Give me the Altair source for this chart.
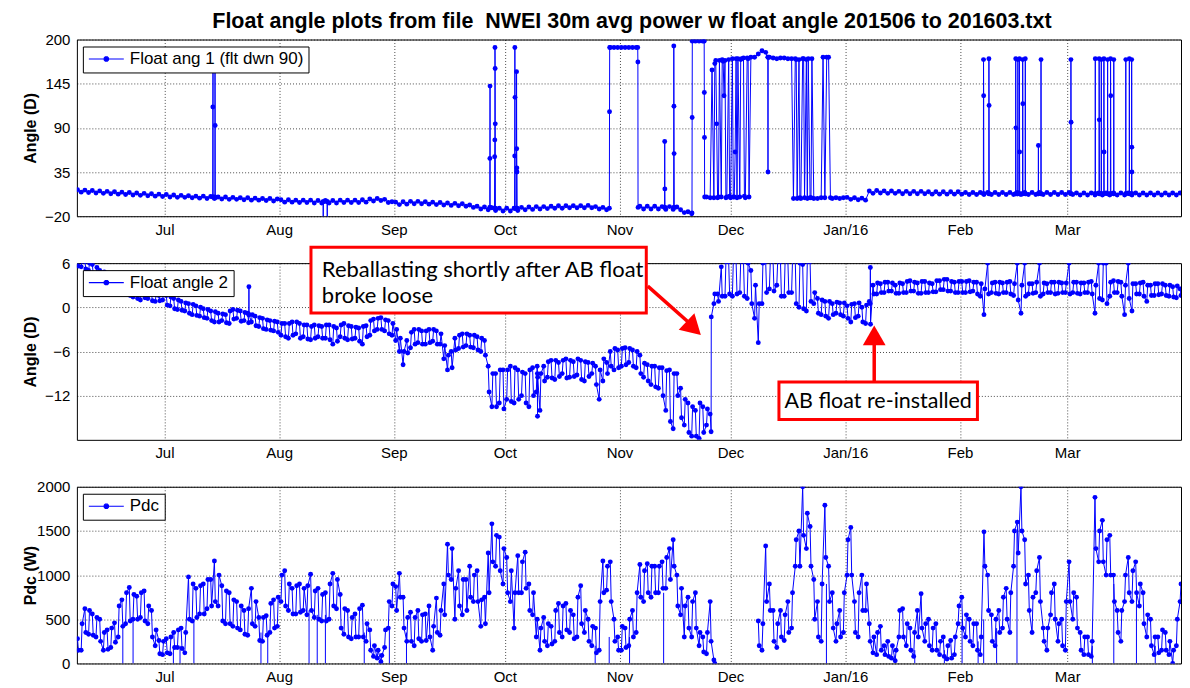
import altair as alt
import pandas as pd

FONT = "Liberation Sans"
NOTE_FONT = "Lato"
BLUE = "#0000ff"
RED = "#ff0000"

TITLE = "Float angle plots from file\u00a0 NWEI 30m avg power w float angle 201506 to 201603.txt"

# Daily samples, one list per month.  "_A" lists are the value at 12:00 and
# "_B" lists the value at 18:00 of the same day (upper / lower edge of the band).
MONTH_STARTS = ["2015-06-07", "2015-07-01", "2015-08-01", "2015-09-01", "2015-10-01",
                "2015-11-01", "2015-12-01", "2016-01-01", "2016-02-01", "2016-03-01"]
MONTH_LENGTHS = [24, 31, 31, 30, 31, 30, 31, 31, 29, 31]
TICK_MONTHS = [(2015, 7), (2015, 8), (2015, 9), (2015, 10), (2015, 11), (2015, 12),
               (2016, 1), (2016, 2), (2016, 3)]

# ---- Float ang 1 (flt dwn 90) ----
A1_JUN = [13, 10, 12.5, 9.5, 12, 9, 11.5, 8.5, 11, 8, 10.5, 7.5, 10, 7, 9.5, 6.5, 9, 6, 8.5, 5.5, 8, 5, 7.5, 4.5]
A1_JUL = [7, 4, 6.5, 3.5, 6, 3.5, 5.5, 3, 5, 2.5, 5, 2, 4.5, 2, 4, 1.5, 4, 1, 3.5, 1, 3, 0.5, 3, 0, 2.5, 0, 2, -0.5, 2, -1, 1.5]
A1_AUG = [0.5, -2.5, 0.5, -2.5, 0, -3, 0, -3, 0, -3.5, -0.5, -3.5, -0.5, -3.5, -0.5, -3.5, 0, -3, 0, -3, 0, -3, 0.5, -2.5, 1.5, -1, 2, -0.5, 1, -3, -2]
A1_SEP = [-2.5, -5.5, -2, -5, -1.5, -4.5, -1.5, -4.5, -2, -5, -2.5, -5.5, -3, -6, -3.5, -6.5, -4, -7, -4.5, -7.5, -6, -9, -7.5, -11, -8.5, -12, -9.5, -13, -10, -13.5]
A1_OCT = [-10, -13.5, -10, -13, -9, -12, -8.5, -11.5, -8, -11, -8, -10.5, -7.5, -10, -7, -10, -7, -9.5, -7, -9.5, -7, -9.5, -6.5, -9.5, -8, -11, -9, -12, 190, 190, 190]
A1_NOV = [190, 190, 190, 190, 190, -7.5, -11, -7.5, -11, -7.5, -11, -8, -11.5, -8, -11.5, -8.5, -12, -15.5, -14.5, -17, 198, 198, 198, 4, 3, 3, 3, 4, 174, 175]
A1_DEC = [176, 176, 4, 177, 177, 178, 178, 182, 186, 184, 178, 177, 176, 177, 177, 176, 176, 176, 175, 176, 175, 3, 2, 2, 3, 3, 178, 2, 3, 2, 3]
A1_JAN = [3.5, 1, 3, 0.5, 2.5, 0, 11.5, 8.5, 12, 9, 11.5, 8.5, 11.5, 8.5, 11, 8, 11, 8, 11, 8, 11, 8, 10.5, 7.5, 10.5, 7.5, 10.5, 7.5, 10.5, 7.5, 10.5]
A1_FEB = [7.5, 9.5, 7, 9.5, 7, 9.5, 7, 9.5, 7, 9.5, 7, 9.5, 7, 9.5, 7, 9.5, 7, 9.5, 7, 9.5, 7, 9.5, 7, 9.5, 7, 9.5, 7, 9.5, 7]
A1_MAR = [9.5, 7, 9, 6.5, 9, 6.5, 9, 6.5, 9, 6.5, 9, 6.5, 9, 6.5, 9, 6.5, 9, 6.5, 9, 6.5, 9, 6.5, 9, 6.5, 9, 6.5, 9, 6.5, 9, 6.5, 9]
# extra (sub-daily) samples: spikes and switching
A1_EXTRA = [
    ("2015-07-14T01:00", 4), ("2015-07-14T02:00", 116), ("2015-07-14T03:00", 170), ("2015-07-14T04:00", 4),
    ("2015-07-14T15:00", 4), ("2015-07-14T16:00", 170), ("2015-07-14T17:00", 93), ("2015-07-14T18:00", 3),
    ("2015-08-12T21:00", -2), ("2015-08-12T22:00", -40), ("2015-08-12T23:00", -2),
    ("2015-08-13T23:00", -2), ("2015-08-14T00:00", -40), ("2015-08-14T01:00", -2),
    ("2015-09-26T22:00", -9), ("2015-09-26T23:00", 52), ("2015-09-27T00:00", 142), ("2015-09-27T01:00", -9),
    ("2015-09-28T05:00", -10), ("2015-09-28T06:00", 54), ("2015-09-28T07:00", 75), ("2015-09-28T08:00", 190),
    ("2015-09-28T09:00", 164), ("2015-09-28T10:00", 95), ("2015-09-28T11:00", -10),
    ("2015-10-03T15:00", -10), ("2015-10-03T16:00", 55), ("2015-10-03T17:00", 190), ("2015-10-03T18:00", 128),
    ("2015-10-03T19:00", -10),
    ("2015-10-04T03:00", -10), ("2015-10-04T04:00", 160), ("2015-10-04T05:00", 64), ("2015-10-04T06:00", 40),
    ("2015-10-04T07:00", 35), ("2015-10-04T08:00", -10),
    ("2015-10-29T06:00", -10), ("2015-10-29T07:00", 110), ("2015-10-29T08:00", 190),
    ("2015-11-05T22:00", 190), ("2015-11-05T23:00", 172), ("2015-11-06T00:00", -9),
    ("2015-11-13T04:00", -9), ("2015-11-13T05:00", 73), ("2015-11-13T06:00", 14), ("2015-11-13T07:00", -9),
    ("2015-11-15T15:00", -9), ("2015-11-15T16:00", 192), ("2015-11-15T17:00", 117), ("2015-11-15T18:00", 58),
    ("2015-11-15T19:00", -9),
    ("2015-11-20T14:00", -16), ("2015-11-20T15:00", 103), ("2015-11-20T16:00", 198),
    ("2015-11-23T21:00", 198), ("2015-11-23T22:00", 134), ("2015-11-23T23:00", 78), ("2015-11-24T00:00", 4),
    ("2015-11-26T00:00", 162), ("2015-11-26T18:00", 170), ("2015-11-27T00:00", 174), ("2015-11-27T06:00", 95),
    ("2015-11-27T18:00", 4), ("2015-11-28T00:00", 174), ("2015-11-28T18:00", 175), ("2015-11-29T00:00", 173),
    ("2015-11-29T06:00", 130), ("2015-11-29T18:00", 3), ("2015-11-30T00:00", 4), ("2015-11-30T18:00", 5),
    ("2015-12-01T00:00", 3), ("2015-12-01T18:00", 4), ("2015-12-02T00:00", 4), ("2015-12-02T06:00", 60),
    ("2015-12-02T18:00", 3), ("2015-12-03T00:00", 176), ("2015-12-03T18:00", 175), ("2015-12-04T00:00", 176),
    ("2015-12-04T18:00", 5), ("2015-12-05T00:00", 3), ("2015-12-05T18:00", 176), ("2015-12-06T00:00", 4),
    ("2015-12-11T02:00", 178), ("2015-12-11T03:00", 35), ("2015-12-11T04:00", 178),
    ("2015-12-18T00:00", 2), ("2015-12-18T18:00", 175), ("2015-12-19T00:00", 2), ("2015-12-19T18:00", 3),
    ("2015-12-20T00:00", 2), ("2015-12-20T18:00", 176), ("2015-12-21T00:00", 3), ("2015-12-21T18:00", 2),
    ("2015-12-22T00:00", 176), ("2015-12-22T18:00", 3), ("2015-12-23T00:00", 176),
    ("2015-12-26T00:00", 178), ("2015-12-27T00:00", 178), ("2015-12-28T00:00", 3),
    ("2016-02-07T08:00", 8), ("2016-02-07T09:00", 175), ("2016-02-07T10:00", 130), ("2016-02-07T11:00", 8),
    ("2016-02-08T19:00", 8), ("2016-02-08T20:00", 176), ("2016-02-08T21:00", 118), ("2016-02-08T22:00", 8),
    ("2016-02-16T01:00", 8), ("2016-02-16T02:00", 176), ("2016-02-16T03:00", 90), ("2016-02-16T04:00", 8),
    ("2016-02-16T15:00", 8), ("2016-02-16T16:00", 175), ("2016-02-16T17:00", 8),
    ("2016-02-17T01:00", 8), ("2016-02-17T02:00", 176), ("2016-02-17T03:00", 60), ("2016-02-17T04:00", 8),
    ("2016-02-17T22:00", 8), ("2016-02-17T23:00", 175), ("2016-02-18T00:00", 120), ("2016-02-18T01:00", 8),
    ("2016-02-18T15:00", 8), ("2016-02-18T16:00", 176), ("2016-02-18T17:00", 8),
    ("2016-02-22T04:00", 8), ("2016-02-22T05:00", 68), ("2016-02-22T06:00", 8),
    ("2016-02-22T21:00", 8), ("2016-02-22T22:00", 175), ("2016-02-22T23:00", 8),
    ("2016-03-01T23:00", 8), ("2016-03-02T00:00", 175), ("2016-03-02T01:00", 97), ("2016-03-02T02:00", 8),
    ("2016-03-08T13:00", 8), ("2016-03-08T14:00", 176), ("2016-03-08T15:00", 8),
    ("2016-03-09T14:00", 8), ("2016-03-09T15:00", 176), ("2016-03-09T16:00", 100), ("2016-03-09T17:00", 8),
    ("2016-03-10T04:00", 8), ("2016-03-10T05:00", 175), ("2016-03-10T06:00", 8),
    ("2016-03-10T21:00", 8), ("2016-03-10T22:00", 176), ("2016-03-10T23:00", 60), ("2016-03-11T00:00", 8),
    ("2016-03-11T21:00", 8), ("2016-03-11T22:00", 175), ("2016-03-11T23:00", 8),
    ("2016-03-12T16:00", 8), ("2016-03-12T17:00", 176), ("2016-03-12T18:00", 130), ("2016-03-12T19:00", 8),
    ("2016-03-13T13:00", 8), ("2016-03-13T14:00", 175), ("2016-03-13T15:00", 8),
    ("2016-03-16T19:00", 8), ("2016-03-16T20:00", 175), ("2016-03-16T21:00", 8),
    ("2016-03-17T18:00", 8), ("2016-03-17T19:00", 176), ("2016-03-17T20:00", 8),
    ("2016-03-18T09:00", 8), ("2016-03-18T10:00", 175), ("2016-03-18T11:00", 66), ("2016-03-18T11:30", 35),
    ("2016-03-18T11:45", 8),
]

# ---- Float angle 2 ----
A2_JUN = [6.4, 5.5, 6.2, 5.0, 5.8, 4.5, 5.0, 3.8, 4.5, 3.2, 3.8, 2.6, 3.0, 2.0, 2.6, 1.4, 2.2, 1.0, 2.0, 1.2, 1.8, 0.8, 1.6, 1.0]
A2_JUL = [1.6, 0.2, 1.2, -0.3, 0.8, -0.5, 0.5, -1.0, 0.2, -1.2, -0.2, -1.5, -0.5, -2.0, -0.8, -1.8, -1.0, -2.2, -0.3, -1.5, -0.5, -1.8, -0.8, -2.0, -1.2, -2.6, -1.5, -3.0, -1.8, -3.2, -2.0]
A2_AUG = [-3.8, -2.2, -4.2, -2.0, -3.6, -2.2, -4.0, -2.4, -4.4, -2.4, -4.0, -2.6, -4.2, -2.4, -5.0, -2.8, -4.0, -2.2, -4.4, -2.6, -4.2, -2.8, -5.0, -2.5, -3.8, -1.6, -3.0, -1.4, -3.2, -1.8, -3.8]
A2_SEP = [-4.5, -6.0, -7.8, -4.5, -5.5, -3.0, -4.8, -3.2, -5.0, -3.0, -4.6, -3.2, -5.0, -7.0, -8.5, -6.0, -4.2, -5.6, -3.6, -5.2, -3.8, -5.5, -4.0, -6.0, -4.5, -8.0, -13.5, -9.0, -13.0, -8.5]
A2_OCT = [-12.5, -8.0, -13.0, -8.5, -12.0, -9.0, -13.5, -8.2, -11.5, -14.0, -8.0, -9.5, -7.2, -9.8, -7.5, -9.0, -7.0, -9.5, -7.4, -9.2, -7.2, -10.0, -7.5, -9.0, -8.0, -12.5, -10.0, -7.5, -6.0, -8.5, -5.8]
A2_NOV = [-8.0, -5.5, -7.5, -5.8, -8.2, -6.5, -9.5, -7.8, -10.5, -8.0, -11.0, -8.2, -14.0, -8.5, -16.5, -9.0, -11.0, -16.0, -13.0, -17.5, -14.0, -17.8, -13.5, -16.0, -14.5, 0.5, 1.8, 5.5, 1.5, 6.2]
A2_DEC = [1.5, 6.3, 2.0, 6.2, 1.2, 5.0, -1.5, -4.8, 0.5, 6.2, 2.5, 6.3, 3.0, 6.2, 1.5, 6.3, 2.0, 6.3, 0.0, 5.8, -0.5, 6.2, 0.5, 1.2, -1.0, 0.8, -1.5, 0.5, -0.8, 0.6, -1.2]
A2_JAN = [0.2, -2.0, 0.5, -1.2, 0.0, -2.2, 0.8, 3.0, 1.8, 3.2, 2.0, 3.4, 2.2, 3.0, 1.9, 3.2, 2.0, 3.6, 2.2, 3.3, 1.9, 3.5, 2.0, 3.2, 2.1, 3.6, 2.4, 3.8, 2.2, 3.4, 2.0]
A2_FEB = [3.5, 2.0, 3.6, 2.2, 3.4, 1.5, -1.0, 6.0, 2.0, 3.4, 1.8, 3.3, 2.0, 3.5, 1.6, 6.0, -0.8, 6.0, 1.8, 3.2, 2.0, 6.0, 1.8, 3.2, 2.0, 3.4, 1.9, 3.3, 2.0]
A2_MAR = [6.0, 2.0, 3.4, 1.8, 3.3, 2.0, 3.5, -0.8, 6.0, 1.0, 6.0, 1.5, 3.6, 2.0, 3.4, -1.0, 6.0, -0.5, 3.2, 1.8, 3.4, 0.8, 3.0, 1.6, 3.2, 1.8, 3.0, 1.5, 2.8, 1.3, 2.5]
B2_JUN = [5.6, 6.3, 5.2, 6.0, 4.6, 5.4, 4.0, 4.8, 3.4, 4.2, 2.8, 3.6, 2.2, 2.8, 1.6, 2.4, 1.2, 2.2, 1.3, 1.9, 0.9, 1.7, 0.9, 1.8]
B2_JUL = [0.3, 1.4, -0.2, 1.0, -0.4, 0.6, -0.8, 0.4, -1.1, 0.0, -1.4, -0.3, -1.8, -0.6, -2.0, -0.9, -2.1, -0.5, -1.6, -0.4, -1.9, -0.7, -2.1, -1.0, -2.5, -1.4, -2.9, -1.7, -3.1, -1.9, -3.4]
B2_AUG = [-2.2, -4.0, -2.2, -3.8, -2.0, -4.2, -2.4, -4.3, -2.6, -4.2, -2.5, -4.2, -2.4, -4.4, -2.6, -4.6, -2.4, -4.2, -2.5, -4.3, -2.7, -4.6, -2.6, -4.0, -1.8, -3.2, -1.5, -3.0, -1.7, -3.6, -2.2]
B2_SEP = [-3.0, -4.2, -6.0, -6.2, -3.4, -5.0, -3.0, -5.0, -3.2, -4.8, -3.0, -5.0, -3.6, -5.2, -6.5, -8.2, -5.8, -3.8, -5.4, -3.6, -5.4, -3.8, -5.8, -4.2, -6.5, -11.5, -9.0, -13.5, -8.5, -13.8]
B2_OCT = [-8.5, -12.8, -8.2, -12.5, -8.8, -13.0, -8.5, -12.0, -8.0, -9.0, -10.0, -7.4, -9.6, -7.2, -9.4, -7.2, -9.6, -7.2, -9.4, -7.0, -9.8, -7.4, -9.4, -7.6, -10.5, -8.5, -7.0, -9.0, -8.0, -5.6, -8.2]
B2_NOV = [-5.6, -7.8, -5.6, -8.0, -6.0, -9.0, -7.6, -10.0, -8.0, -10.8, -8.2, -12.0, -8.6, -15.5, -9.0, -12.0, -15.0, -12.5, -17.0, -13.5, -17.5, -13.0, -17.0, -13.8, -16.9, 1.8, 0.8, 1.5, 6.2, 1.8]
B2_DEC = [6.3, 1.8, 6.3, 1.5, 6.0, 0.5, 3.0, 0.5, 6.0, 2.0, 6.3, 2.2, 6.3, 1.5, 6.3, 2.0, 6.3, 0.5, 6.0, -0.2, 6.2, 0.8, 2.0, -0.8, 1.0, -1.2, 0.8, -1.0, 0.7, -1.0, 0.6]
B2_JAN = [-1.5, 0.4, -1.4, 0.6, -2.0, 0.3, 0.5, 1.8, 3.3, 2.0, 3.4, 2.2, 3.3, 1.9, 3.3, 2.0, 3.5, 2.2, 3.4, 1.9, 3.5, 2.0, 3.3, 2.1, 3.6, 2.4, 3.8, 2.2, 3.5, 2.0, 3.5]
B2_FEB = [2.0, 3.5, 2.1, 3.4, 1.8, 3.2, 2.5, 1.8, 3.3, 1.9, 3.4, 2.0, 3.4, 1.8, 3.2, 1.0, 3.0, 1.5, 3.2, 1.9, 3.4, 1.5, 3.3, 2.0, 3.4, 1.8, 3.4, 2.0, 3.3]
B2_MAR = [1.8, 3.4, 1.9, 3.3, 2.0, 3.4, 1.8, 3.0, 1.2, 6.0, 0.5, 3.4, 2.0, 3.5, 1.5, 3.0, 1.2, 3.2, 1.8, 3.3, 1.5, 3.0, 1.6, 3.2, 1.7, 3.2, 1.6, 3.0, 1.4, 2.9, 1.6]
A2_EXTRA = [
    ("2015-07-23T19:00", -1.0), ("2015-07-23T20:00", 2.8), ("2015-07-23T21:00", -1.0),
    ("2015-10-09T19:00", -9.0), ("2015-10-09T20:00", -14.8), ("2015-10-09T21:00", -9.5),
    ("2015-11-25T19:00", -1.3),
    ("2016-01-07T19:00", 5.4), ("2016-01-07T20:00", -2.3),
]

# ---- Pdc (W) ----
P_JUN = [280, 150, 620, 330, 560, 300, 500, 150, 380, 180, 460, 300, 720, 450, 860, 500, 760, 520, 820, 450, 600, 200, 260, 100]
P_JUL = [280, 110, 350, 180, 400, 120, 980, 480, 850, 560, 900, 620, 950, 1160, 650, 880, 450, 800, 420, 700, 380, 600, 320, 850, 420, 520, 250, 540, 350, 720, 420]
P_AUG = [700, 1050, 600, 850, 560, 900, 600, 550, 1010, 520, 850, 480, 800, 500, 1020, 620, 780, 330, 600, 280, 560, 300, 660, 250, 380, 80, 60, 20, 180, 400, 650]
P_SEP = [870, 1020, 750, 250, 580, 200, 600, 250, 560, 650, 150, 740, 320, 900, 1350, 950, 500, 1050, 550, 950, 1100, 700, 1050, 420, 750, 1250, 1580, 1100, 1430, 900]
P_OCT = [1200, 700, 400, 1220, 800, 1260, 900, 550, 300, 150, 520, 200, 420, 250, 680, 300, 680, 350, 550, 300, 880, 350, 500, 200, 400, 150, 1160, 830, 1150, 500, 300]
P_NOV = [150, 400, 200, 600, 350, 1120, 700, 1130, 750, 1100, 800, 1150, 850, 1300, 1400, 1000, 550, 300, 750, 300, 800, 200, 300, 110, 700, 40, None, None, None, None]
P_DEC = [None, None, None, None, None, None, None, 480, 150, 1330, 900, 600, 180, 600, 260, 700, 400, 1100, 1500, 2000, 1300, 1550, 950, 700, 250, 1790, 1100, 800, 250, 600, 350]
P_JAN = [1000, 1540, 700, 300, 1000, 600, 450, 120, 100, 420, 200, 250, 60, 30, 300, 620, 200, 400, 80, 600, 790, 250, 500, 150, 450, 100, 300, 50, 260, 100, 450]
P_FEB = [750, 300, 500, 200, 450, 100, 1490, 1000, 550, 200, 600, 400, 850, 350, 1100, 1600, 2000, 1400, 1000, 350, 800, 1200, 400, 150, 550, 900, 250, 500, 150]
P_MAR = [1150, 500, 750, 350, 100, 300, 80, 1880, 1150, 1620, 1000, 1450, 1000, 600, 250, 700, 1200, 700, 1150, 650, 800, 300, 500, 100, 300, 150, 350, 100, 0, 200, 700]
Q_JUN = [150, 450, 350, 600, 320, 520, 250, 350, 160, 400, 240, 650, 420, 800, 480, 780, 500, 800, 480, 650, 300, 380, 110, 250]
Q_JUL = [120, 300, 180, 380, 170, 350, 500, 900, 520, 880, 560, 950, 650, 700, 1000, 480, 820, 450, 720, 400, 650, 330, 620, 450, 700, 260, 520, 320, 680, 400, 750]
Q_AUG = [1000, 650, 900, 560, 880, 580, 850, 880, 600, 820, 500, 780, 480, 900, 650, 950, 400, 620, 300, 520, 300, 620, 300, 450, 150, 200, 150, 90, 380, 700, 900]
Q_SEP = [600, 750, 400, 520, 250, 520, 280, 550, 260, 300, 420, 350, 600, 550, 1000, 1300, 850, 650, 950, 600, 750, 1000, 700, 720, 450, 800, 1150, 1450, 1050, 1300]
Q_OCT = [800, 1050, 800, 800, 1150, 850, 600, 800, 500, 400, 250, 450, 220, 600, 350, 650, 380, 600, 280, 750, 450, 600, 250, 420, 120, 700, 800, 1100, 700, 250, 150]
Q_NOV = [420, 180, 500, 300, 800, 750, 1050, 800, 1100, 800, 1100, 850, 1200, 950, 1100, 650, 850, 650, 400, 700, 400, 350, 130, 350, 250, 0, None, None, None, None]
Q_DEC = [None, None, None, None, None, None, None, 200, 450, 700, 600, 250, 450, 300, 550, 350, 800, 1400, 1100, 1450, 1700, 1100, 500, 300, 900, 1200, 700, 400, 450, 300, 800]
Q_JAN = [1400, 1000, 350, 800, 600, 900, 250, 300, 350, 150, 100, 80, 200, 150, 600, 300, 450, 150, 350, 300, 400, 450, 200, 400, 150, 250, 80, 200, 60, 300, 650]
Q_FEB = [400, 550, 250, 450, 150, 300, 1100, 600, 250, 500, 350, 750, 500, 800, 1500, 1250, 1500, 900, 600, 750, 1050, 700, 250, 400, 800, 500, 450, 200, 700]
Q_MAR = [700, 800, 400, 150, 300, 100, 250, 1300, 1500, 1150, 1400, 1000, 700, 350, 600, 1000, 800, 1050, 800, 900, 450, 550, 200, 300, 120, 380, 150, 250, 150, 500, 900]
# short drop-outs to zero: (time, level the drop starts from)
P_DROPS = [
    ("2015-06-19T18:00", 400), ("2015-06-22T12:30", 500), ("2015-07-03T10:00", 200), ("2015-07-05T05:00", 200),
    ("2015-07-08T23:00", 500), ("2015-07-27T02:00", 350), ("2015-07-28T22:00", 350), ("2015-08-09T02:00", 600),
    ("2015-08-11T07:00", 550), ("2015-08-13T12:00", 550), ("2015-08-24T00:00", 350), ("2015-08-30T19:00", 400),
    ("2015-09-04T10:00", 350), ("2015-10-25T10:00", 200), ("2015-10-29T05:00", 300), ("2015-11-03T17:00", 300),
    ("2015-11-12T22:00", 800), ("2015-12-26T22:00", 900), ("2016-01-19T19:00", 150), ("2016-01-27T19:00", 150),
    ("2016-02-01T14:00", 500), ("2016-02-05T22:00", 250), ("2016-02-07T10:00", 500), ("2016-02-10T22:00", 400),
    ("2016-02-16T10:00", 1500), ("2016-03-07T19:00", 200), ("2016-03-13T14:00", 900), ("2016-03-19T17:00", 800),
    ("2016-03-24T19:00", 200),
]

# ---- annotations (in the Float angle 2 panel's data coordinates) ----
NOTE_BOXES = [("2015-08-09T14:30", "2015-11-08T05:30", 8.17, -0.78),
              ("2015-12-14T02:00", "2016-02-05T17:30", -10.14, -15.25)]
NOTE_LEFT_TEXT = [("2015-08-12T13:00", 5.05, "Reballasting shortly after AB float"),
                  ("2015-08-12T13:00", 1.53, "broke loose")]
NOTE_CENTER_TEXT = [("2016-01-09T22:00", -12.8, "AB float re-installed")]
ARROW_LINES = [("2015-11-08T15:00", 2.88, "2015-11-20T06:00", -2.3),
               ("2016-01-08T20:00", -10.14, "2016-01-08T20:00", -4.6)]
ARROW_HEADS = [("2015-11-21T01:00", -2.84, 133.5), ("2016-01-08T20:00", -3.8, 0)]

LABELS = ["Float ang 1 (flt dwn 90)", "Float angle 2", "Pdc"]

# ---------------------------------------------------------------------------
A1 = [A1_JUN, A1_JUL, A1_AUG, A1_SEP, A1_OCT, A1_NOV, A1_DEC, A1_JAN, A1_FEB, A1_MAR]
A2 = [A2_JUN, A2_JUL, A2_AUG, A2_SEP, A2_OCT, A2_NOV, A2_DEC, A2_JAN, A2_FEB, A2_MAR]
B2 = [B2_JUN, B2_JUL, B2_AUG, B2_SEP, B2_OCT, B2_NOV, B2_DEC, B2_JAN, B2_FEB, B2_MAR]
PD = [P_JUN, P_JUL, P_AUG, P_SEP, P_OCT, P_NOV, P_DEC, P_JAN, P_FEB, P_MAR]
QD = [Q_JUN, Q_JUL, Q_AUG, Q_SEP, Q_OCT, Q_NOV, Q_DEC, Q_JAN, Q_FEB, Q_MAR]
for series in (A1, A2, B2, PD, QD):
    for vals, n in zip(series, MONTH_LENGTHS):
        assert len(vals) == n, (len(vals), n)


def build(months_a, extra, label, months_b=None):
    rows = []
    for k, (start, vals) in enumerate(zip(MONTH_STARTS, months_a)):
        base = pd.Timestamp(start)
        for i, v in enumerate(vals):
            rows.append((base + pd.Timedelta(days=i, hours=12), v))
            if months_b is not None:
                rows.append((base + pd.Timedelta(days=i, hours=18), months_b[k][i]))
    rows += [(pd.Timestamp(t), v) for t, v in extra]
    df = pd.DataFrame(rows, columns=["t", "v"]).sort_values("t", kind="stable")
    df["v"] = df["v"].astype(float)
    df["seg"] = df["v"].isna().cumsum()
    df = df.dropna().copy()
    df["t"] = df["t"].dt.strftime("%Y-%m-%dT%H:%M:%S")
    df["s"] = label
    return df.reset_index(drop=True)


def iso(t):
    return pd.Timestamp(t).strftime("%Y-%m-%dT%H:%M:%S")


df1 = build(A1, A1_EXTRA, LABELS[0])
df2 = build(A2, A2_EXTRA, LABELS[1], B2)
df3 = build(PD, [], LABELS[2], QD)
drops = pd.DataFrame({"t": [iso(t) for t, _ in P_DROPS], "top": [v for _, v in P_DROPS],
                      "zero": [0] * len(P_DROPS)})

X_DOMAIN = [alt.DateTime(year=2015, month=6, date=7, hours=8),
            alt.DateTime(year=2016, month=3, date=31, hours=18)]
MONTH_TICKS = [alt.DateTime(year=y, month=m, date=1) for y, m in TICK_MONTHS]
X_AXIS = alt.Axis(values=MONTH_TICKS, title=None,
                  labelExpr="month(datum.value) == 0 ? 'Jan/' + timeFormat(datum.value, '%y') : timeFormat(datum.value, '%b')")
XS = alt.Scale(domain=X_DOMAIN)

LEG_PATH = ("M-1,0L1,0M-0.12,-0.06L-0.06,-0.12L0.06,-0.12L0.12,-0.06L0.12,0.06L0.06,0.12"
            "L-0.06,0.12L-0.12,0.06Z")

W, H = 1106, 177
DOT = 24


def panel(df, label, ydom, yvals, ytitle):
    ys = alt.Scale(domain=ydom, nice=False, zero=False)
    yax = alt.Axis(values=yvals, title=ytitle, format="d")
    x = alt.X("t:T", scale=XS, axis=X_AXIS)
    y = alt.Y("v:Q", scale=ys, axis=yax)
    line = alt.Chart(df).mark_line(strokeWidth=1, clip=True).encode(
        x=x, y=y, detail="seg:N",
        color=alt.Color("s:N", scale=alt.Scale(domain=[label], range=[BLUE]),
                        legend=alt.Legend(title=None, orient="none", legendX=6, legendY=7,
                                          symbolType=LEG_PATH, symbolSize=1225,
                                          symbolStrokeWidth=1.2, symbolStrokeColor=BLUE,
                                          symbolFillColor=BLUE, clipHeight=15, labelLimit=400,
                                          labelFont=FONT, labelFontSize=17, labelColor="black",
                                          labelOffset=5, strokeColor="black", fillColor="white",
                                          padding=5, cornerRadius=0)))
    pts = alt.Chart(df).mark_circle(size=DOT, opacity=1, color=BLUE, clip=True).encode(x=x, y=y)
    return [line, pts], x, ys, yax


# panel 1
l1, x1, ys1, ya1 = panel(df1, LABELS[0], [-20, 200], [-20, 35, 90, 145, 200], "Angle (D)")
p1 = alt.layer(*l1).properties(width=W, height=H)

# panel 2 with annotations
l2, x2, ys2, ya2 = panel(df2, LABELS[1], [-18, 6], [-12, -6, 0, 6], "Angle (D)")
boxes = pd.DataFrame({"x1": [iso(a) for a, _, _, _ in NOTE_BOXES], "x2": [iso(b) for _, b, _, _ in NOTE_BOXES],
                      "y1": [c for _, _, c, _ in NOTE_BOXES], "y2": [d for _, _, _, d in NOTE_BOXES]})
ltext = pd.DataFrame({"t": [iso(a) for a, _, _ in NOTE_LEFT_TEXT], "v": [b for _, b, _ in NOTE_LEFT_TEXT],
                      "txt": [c for _, _, c in NOTE_LEFT_TEXT]})
ctext = pd.DataFrame({"t": [iso(a) for a, _, _ in NOTE_CENTER_TEXT], "v": [b for _, b, _ in NOTE_CENTER_TEXT],
                      "txt": [c for _, _, c in NOTE_CENTER_TEXT]})
alines = pd.DataFrame({"t": [iso(a) for a, _, _, _ in ARROW_LINES], "v": [b for _, b, _, _ in ARROW_LINES],
                       "t2": [iso(c) for _, _, c, _ in ARROW_LINES], "v2": [d for _, _, _, d in ARROW_LINES]})
aheads = pd.DataFrame({"t": [iso(a) for a, _, _ in ARROW_HEADS], "v": [b for _, b, _ in ARROW_HEADS],
                       "ang": [c for _, _, c in ARROW_HEADS]})

box_l = alt.Chart(boxes).mark_rect(fill="white", stroke=RED, strokeWidth=3).encode(
    x=alt.X("x1:T", scale=XS, axis=X_AXIS), x2="x2:T",
    y=alt.Y("y1:Q", scale=ys2, axis=ya2), y2="y2:Q")
lt_l = alt.Chart(ltext).mark_text(align="left", baseline="middle", font=NOTE_FONT, fontSize=22,
                                  color="black").encode(
    x=alt.X("t:T", scale=XS, axis=X_AXIS), y=alt.Y("v:Q", scale=ys2, axis=ya2), text="txt:N")
ct_l = alt.Chart(ctext).mark_text(align="center", baseline="middle", font=NOTE_FONT, fontSize=21.5,
                                  color="black").encode(
    x=alt.X("t:T", scale=XS, axis=X_AXIS), y=alt.Y("v:Q", scale=ys2, axis=ya2), text="txt:N")
al_l = alt.Chart(alines).mark_rule(color=RED, strokeWidth=3.5).encode(
    x=alt.X("t:T", scale=XS, axis=X_AXIS), y=alt.Y("v:Q", scale=ys2, axis=ya2), x2="t2:T", y2="v2:Q")
ah_l = alt.Chart(aheads).mark_point(shape="triangle-up", filled=True, size=520, color=RED,
                                    opacity=1).encode(
    x=alt.X("t:T", scale=XS, axis=X_AXIS), y=alt.Y("v:Q", scale=ys2, axis=ya2),
    angle=alt.Angle("ang:Q", scale=None))
p2 = alt.layer(*l2, box_l, lt_l, ct_l, al_l, ah_l).properties(width=W, height=H)

# panel 3
l3, x3, ys3, ya3 = panel(df3, LABELS[2], [0, 2000], [0, 500, 1000, 1500, 2000], "Pdc (W)")
drop_l = alt.Chart(drops).mark_rule(color=BLUE, strokeWidth=1, clip=True).encode(
    x=alt.X("t:T", scale=XS, axis=X_AXIS), y=alt.Y("zero:Q", scale=ys3, axis=ya3), y2="top:Q")
p3 = alt.layer(drop_l, *l3).properties(width=W, height=H)

chart = alt.vconcat(p1, p2, p3, spacing=47, bounds="flush").resolve_scale(
    color="independent").resolve_legend(color="independent").properties(
    title=alt.TitleParams(TITLE, font=FONT, fontSize=21.5, fontWeight="bold", color="black",
                          anchor="middle", offset=-0.5, dx=30),
    padding={"left": 14, "top": 2, "right": 0, "bottom": 0},
).configure_axis(
    labelFont=FONT, labelFontSize=15, labelColor="black", titleFont=FONT, titleColor="black",
    domain=False, ticks=False, gridColor="#000000", gridDash=[1, 2], gridOpacity=0.7, gridWidth=1,
).configure_axisY(
    labelPadding=7, minExtent=33, maxExtent=33, titleFontSize=16, titleFontWeight="bold",
    titlePadding=5,
).configure_axisX(labelPadding=6).configure_view(stroke="black", strokeWidth=1)

chart.save("out.html", embed_options={"renderer": "svg", "actions": False})
